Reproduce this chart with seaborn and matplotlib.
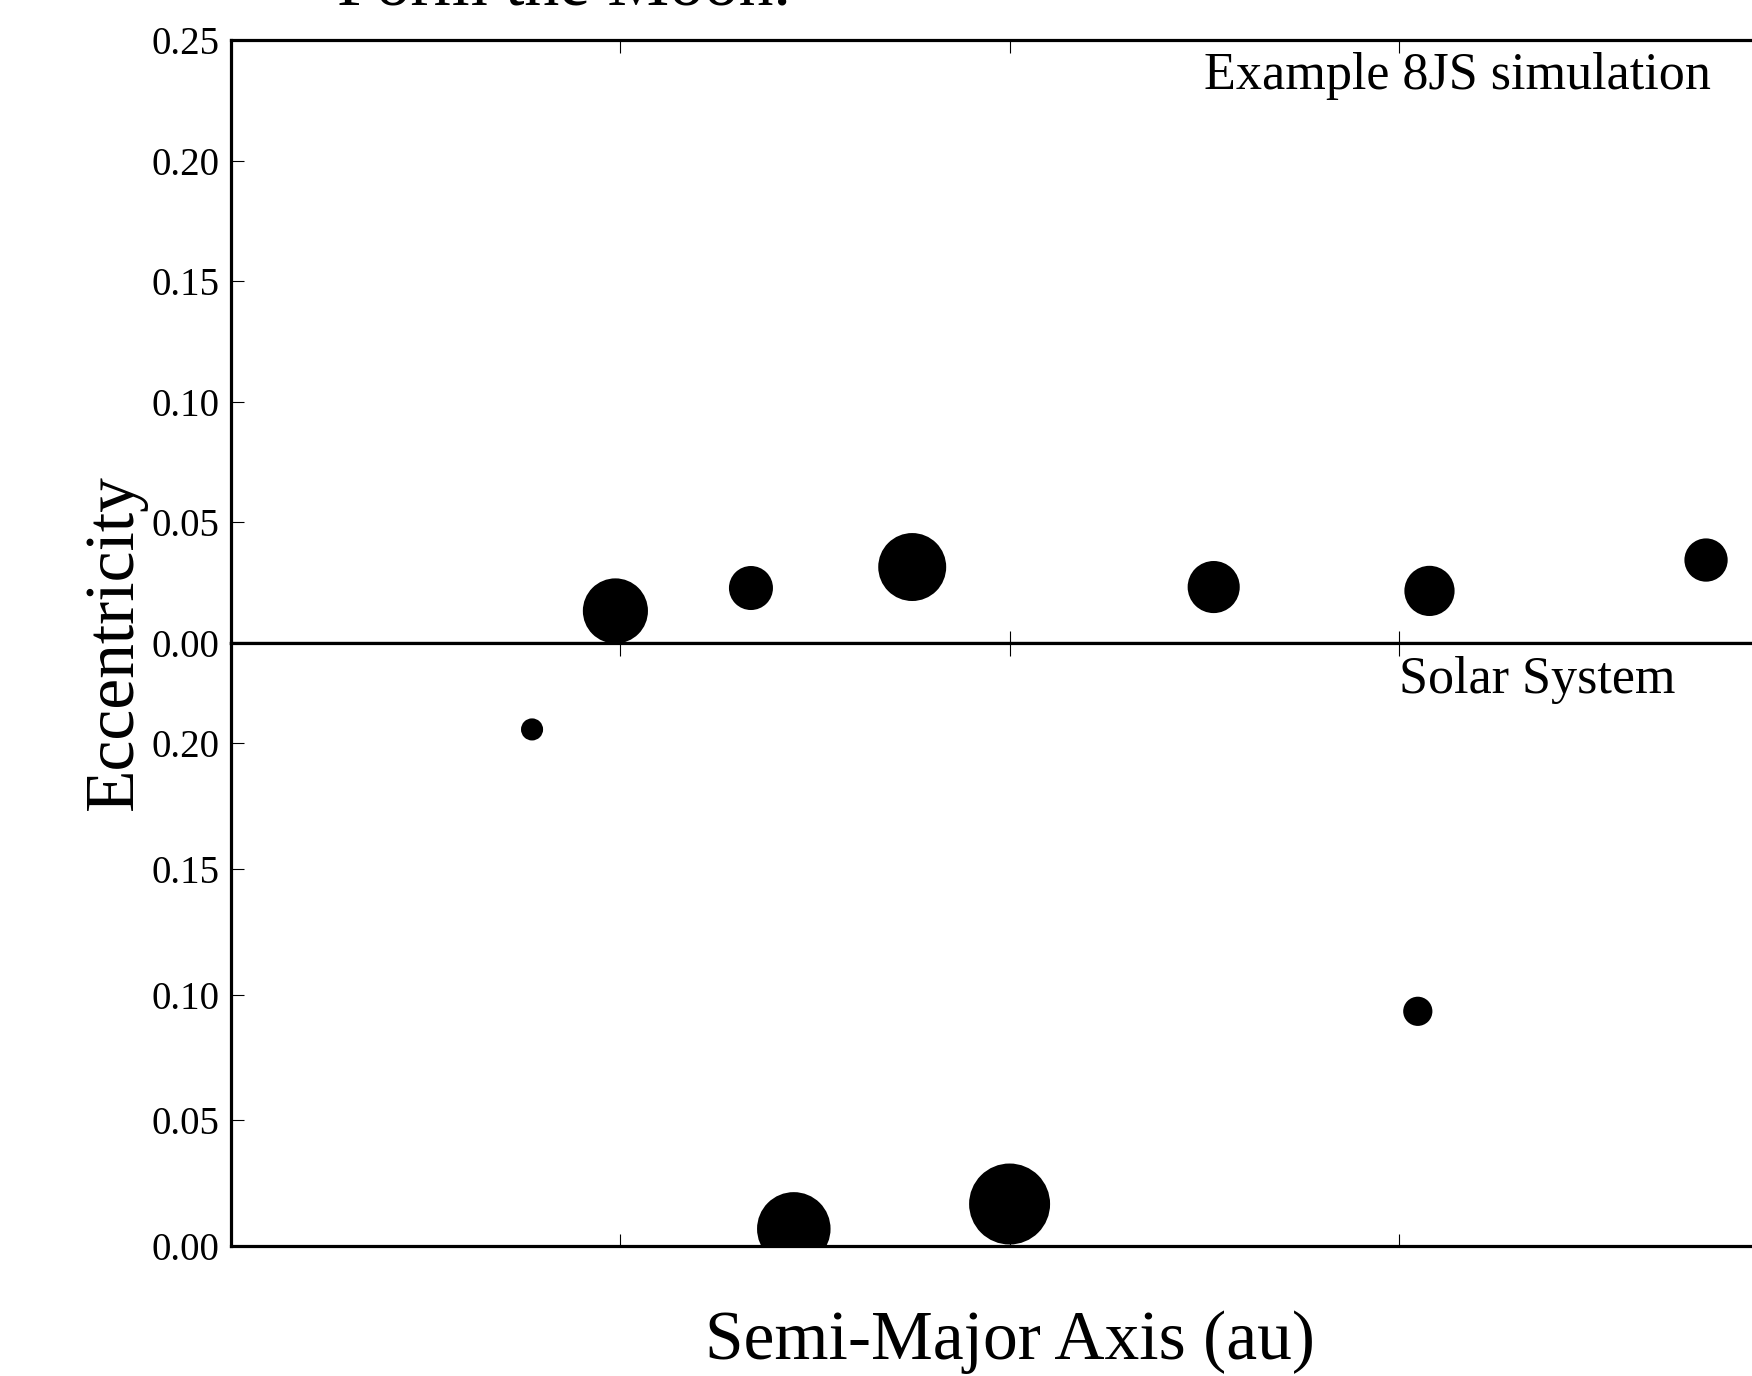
import matplotlib
matplotlib.use("Agg")
import matplotlib.pyplot as plt
from matplotlib.ticker import FormatStrFormatter
import pandas as pd
import seaborn as sns

# example 8JS simulation planets (top panel)
sim_a = [0.494, 0.668, 0.875, 1.262, 1.539, 1.894]
sim_e = [0.0133, 0.0228, 0.0315, 0.0232, 0.0216, 0.0344]
sim_mass = [0.63, 0.27, 0.69, 0.39, 0.36, 0.26]

# solar system terrestrial planets (bottom panel)
ss_a = [0.387, 0.723, 1.0, 1.524]
ss_e = [0.2056, 0.0068, 0.0167, 0.0934]
ss_mass = [0.055, 0.815, 1.0, 0.107]

x_ticks = [0.0, 0.5, 1.0, 1.5, 2.0]
top_yticks = [0.0, 0.05, 0.10, 0.15, 0.20, 0.25]
bot_yticks = [0.0, 0.05, 0.10, 0.15, 0.20]

sim = pd.DataFrame({"a": sim_a, "e": sim_e, "m": sim_mass})
ss = pd.DataFrame({"a": ss_a, "e": ss_e, "m": ss_mass})

sns.set_theme(style="ticks")
plt.rcParams['font.family'] = ['Liberation Serif', 'DejaVu Serif']
plt.rcParams['text.color'] = 'black'
plt.rcParams['axes.labelcolor'] = 'black'
plt.rcParams['xtick.color'] = 'black'
plt.rcParams['ytick.color'] = 'black'

fig = plt.figure(figsize=(17.52, 13.76), dpi=100)
ax1 = fig.add_axes([0.1316, 0.5327, 0.8893, 0.4382])
ax2 = fig.add_axes([0.1316, 0.0945, 0.8893, 0.4382])

for ax, df, yt, ytop in ((ax1, sim, top_yticks, 0.25), (ax2, ss, bot_yticks, 0.24)):
    sns.scatterplot(data=df, x="a", y="e", size="m", sizes=(0, 3070), size_norm=(0, 1),
                    color="black", edgecolor="black", linewidth=2.9, legend=False, ax=ax)
    ax.set_xlim(0, 2.0)
    ax.set_ylim(0, ytop)
    ax.set_xticks(x_ticks)
    ax.set_yticks(yt)
    ax.yaxis.set_major_formatter(FormatStrFormatter('%.2f'))
    ax.tick_params(direction='in', length=9, width=0.8, top=True, right=True,
                   labelbottom=False, labelsize=28, pad=8, colors='black')
    for s in ax.spines.values():
        s.set_linewidth(2.3)
        s.set_color('black')
    ax.set_ylabel("")
    ax.set_xlabel("")

ax1.text(1.25, 0.2297, "Example 8JS simulation", fontsize=37.5, va='baseline')
ax2.text(1.5, 0.220, "Solar System", fontsize=37.5, va='baseline')

ax2.set_xlabel("Semi-Major Axis (au)", fontsize=50)
ax2.xaxis.set_label_coords(0.5, -0.107)
ax2.xaxis.label.set_va('top')

fig.text(115 / 1752, 1 - 642 / 1376, "Eccentricity", fontsize=50, rotation=90,
         ha='center', va='center')
# title line of the panel above, only its lower edge falls inside this crop
fig.text(337 / 1752, 1 - 5 / 1376, "Form the Moon.", fontsize=50, ha='left', va='baseline')

fig.savefig("out.png", dpi=100, facecolor='white')
